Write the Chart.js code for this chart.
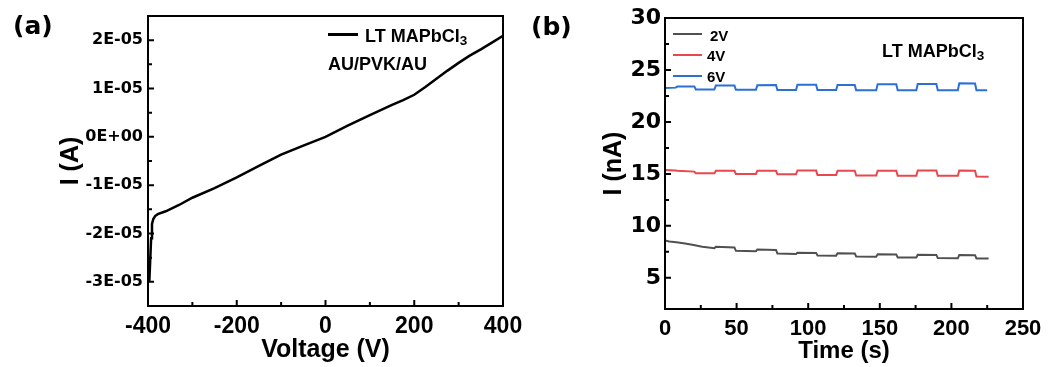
<!DOCTYPE html>
<html>
<head>
<meta charset="utf-8">
<script src="https://cdn.jsdelivr.net/npm/chart.js@4/dist/chart.umd.min.js"></script>
<style>
  body { margin: 0; background: #fff; width: 1048px; height: 367px; position: relative; overflow: hidden;
         font-family: "Liberation Sans", Arial, sans-serif; font-weight: bold; }
  .box { position: absolute; top: 0; width: 524px; height: 367px; }
  .t { position: absolute; line-height: 1; white-space: nowrap; color: #000; }
  .panel { font-family: "DejaVu Sans", sans-serif; font-size: 25px; }
  .ln { position: absolute; }
  sub { font-size: 0.75em; vertical-align: -0.25em; line-height: 0; }
</style>
</head>
<body>
<div class="box" style="left:0"><canvas id="chartA" width="524" height="367"></canvas></div>
<div class="box" style="left:524px"><canvas id="chartB" width="524" height="367"></canvas></div>

<div class="t panel" style="left:13px;top:13px">(a)</div>
<div class="t panel" style="left:531px;top:14px">(b)</div>

<!-- legend (a) -->
<div class="ln" style="left:328px;top:33px;width:30px;height:2.5px;background:#000"></div>
<div class="t" style="left:365px;top:27px;font-size:18px">LT MAPbCl<sub>3</sub></div>
<div class="t" style="left:328px;top:55px;font-size:18px">AU/PVK/AU</div>

<!-- legend (b) -->
<div class="ln" style="left:673px;top:33px;width:29px;height:2px;background:#505050"></div>
<div class="t" style="left:710px;top:28px;font-size:15px">2V</div>
<div class="ln" style="left:673px;top:54px;width:29px;height:2px;background:#e8474d"></div>
<div class="t" style="left:707px;top:48px;font-size:15px">4V</div>
<div class="ln" style="left:673px;top:75px;width:29px;height:2px;background:#2c6fd6"></div>
<div class="t" style="left:707px;top:69px;font-size:15px">6V</div>
<div class="t" style="left:882px;top:42px;font-size:18px">LT MAPbCl<sub>3</sub></div>

<script>
// (a) I-V curve
const voltage = [-397, -395, -393, -391, -388, -384, -378, -360, -330, -300, -250, -200,
                 -150, -100, -50, 0, 50, 100, 150, 175, 200, 225, 250, 275, 300, 325, 350, 375, 400];
const currentIV = [-2.98e-5, -2.55e-5, -2.1e-5, -1.8e-5, -1.7e-5, -1.64e-5, -1.6e-5, -1.54e-5,
                   -1.41e-5, -1.26e-5, -1.06e-5, -0.84e-5, -0.6e-5, -0.37e-5, -0.18e-5, 0,
                   0.23e-5, 0.45e-5, 0.66e-5, 0.76e-5, 0.87e-5, 1.03e-5, 1.2e-5, 1.37e-5,
                   1.53e-5, 1.68e-5, 1.81e-5, 1.95e-5, 2.09e-5];

// (b) I-t curves under on/off cycles
const time2V = [0, 3, 8, 14, 20, 26, 34.5, 35.5, 48.5, 49.5, 63.5, 64.5, 77.5, 78.5, 91.5, 92.5,
                105.5, 106.5, 119.5, 120.5, 132.5, 133.5, 147.5, 148.5, 161.5, 162.5, 175.5, 176.5,
                189.5, 190.5, 204.5, 205.5, 216.5, 217.5, 226];
const current2V = [8.6, 8.5, 8.42, 8.3, 8.15, 8.0, 7.84, 7.98, 7.92, 7.6, 7.56, 7.73, 7.68, 7.35, 7.3, 7.42,
                   7.4, 7.15, 7.13, 7.37, 7.35, 7.05, 7.03, 7.27, 7.25, 6.95, 6.95, 7.22,
                   7.2, 6.9, 6.88, 7.2, 7.18, 6.87, 6.85];

const time4V = [0, 7.5, 8.5, 20.5, 21.5, 34.5, 35.5, 48.5, 49.5, 63.5, 64.5, 77.5, 78.5, 91.5, 92.5,
                105.5, 106.5, 119.5, 120.5, 132.5, 133.5, 147.5, 148.5, 161.5, 162.5, 175.5, 176.5,
                189.5, 190.5, 204.5, 205.5, 216.5, 217.5, 226];
const current4V = [15.37, 15.33, 15.3, 15.22, 15.05, 15.05, 15.31, 15.3, 14.99, 14.99, 15.3, 15.3, 14.97, 14.96, 15.33,
                   15.32, 14.9, 14.89, 15.3, 15.3, 14.85, 14.84, 15.3, 15.3, 14.83, 14.83, 15.32,
                   15.32, 14.83, 14.82, 15.32, 15.3, 14.75, 14.73];

const time6V = [0, 7.5, 8.5, 20.5, 21.5, 34.5, 35.5, 48.5, 49.5, 63.5, 64.5, 77.5, 78.5, 91.5, 92.5,
                105.5, 106.5, 119.5, 120.5, 132.5, 133.5, 147.5, 148.5, 161.5, 162.5, 175.5, 176.5,
                189.5, 190.5, 204.5, 205.5, 216.5, 217.5, 225];
const current6V = [23.27, 23.3, 23.4, 23.42, 23.13, 23.12, 23.5, 23.5, 23.1, 23.09, 23.53, 23.55, 23.08, 23.08, 23.57,
                   23.57, 23.08, 23.07, 23.55, 23.56, 23.05, 23.05, 23.63, 23.63, 23.05, 23.05, 23.64,
                   23.64, 23.05, 23.05, 23.72, 23.7, 23.05, 23.04];

function toPoints(xs, ys) {
    return xs.map((x, i) => ({x: x, y: ys[i]}));
}

// closed box + inward tick marks (minor ticks = unlabelled ones, shorter)
const framePlugin = {
    id: 'frame',
    afterDraw(chart) {
        const {ctx, chartArea: a, scales} = chart;
        ctx.save();
        ctx.strokeStyle = '#000';
        ctx.lineWidth = 2;
        ctx.strokeRect(a.left, a.top, a.right - a.left, a.bottom - a.top);
        ctx.beginPath();
        scales.x.ticks.forEach(t => {
            const px = scales.x.getPixelForValue(t.value);
            const len = t.label === '' ? 4 : 6;
            ctx.moveTo(px, a.bottom);
            ctx.lineTo(px, a.bottom - len);
        });
        scales.y.ticks.forEach(t => {
            const py = scales.y.getPixelForValue(t.value);
            const len = t.label === '' ? 4 : 6;
            ctx.moveTo(a.left, py);
            ctx.lineTo(a.left + len, py);
        });
        ctx.stroke();
        ctx.restore();
    }
};

const noGrid = {display: false, drawTicks: false, tickLength: 0};
const axisBorder = {display: true, color: '#000', width: 2};

// fixed axis sizes so the plot boxes sit where they do in the figure
function fixX(h) {
    return s => { s.height = h; s.paddingLeft = 0; s.paddingRight = 0; };
}
function fixY(w) {
    return s => { s.width = w; s.paddingTop = 0; s.paddingBottom = 0; };
}

new Chart(document.getElementById('chartA'), {
    type: 'line',
    data: {
        datasets: [{
            data: toPoints(voltage, currentIV),
            borderColor: '#000',
            borderWidth: 2.5,
            pointRadius: 0,
            tension: 0
        }]
    },
    options: {
        responsive: false,
        animation: false,
        layout: {autoPadding: false, padding: {top: 16, right: 21, left: 0, bottom: 0}},
        plugins: {legend: {display: false}, tooltip: {enabled: false}},
        scales: {
            x: {
                type: 'linear', min: -400, max: 400,
                ticks: {
                    stepSize: 100, padding: 7, color: '#000', maxRotation: 0, autoSkip: false,
                    font: {family: 'Liberation Sans', size: 23, weight: 'bold'},
                    callback: v => (v % 200 === 0 ? String(v) : '')
                },
                grid: noGrid,
                border: axisBorder,
                title: {
                    display: true, text: 'Voltage (V)', color: '#000',
                    font: {family: 'Liberation Sans', size: 25, weight: 'bold', lineHeight: 1},
                    padding: {top: 0, bottom: 4}
                },
                afterFit: fixX(61)
            },
            y: {
                type: 'linear', min: -3.5e-5, max: 2.5e-5,
                ticks: {
                    stepSize: 5e-6, padding: 5, color: '#000', autoSkip: false,
                    font: {family: 'DejaVu Sans', size: 16, weight: 'bold'},
                    callback: v => {
                        const n = Math.round(v / 5e-6);
                        if (n % 2 !== 0) return '';
                        const k = n / 2;
                        return k === 0 ? '0E+00' : k + 'E-05';
                    }
                },
                grid: noGrid,
                border: axisBorder,
                title: {
                    display: true, text: 'I (A)', color: '#000',
                    font: {family: 'Liberation Sans', size: 25, weight: 'bold', lineHeight: 1},
                    padding: {top: 59, bottom: 0}
                },
                afterFit: fixY(148)
            }
        }
    },
    plugins: [framePlugin]
});

new Chart(document.getElementById('chartB'), {
    type: 'line',
    data: {
        datasets: [
            {label: '2V', data: toPoints(time2V, current2V), borderColor: '#505050', borderWidth: 2, pointRadius: 0, tension: 0},
            {label: '4V', data: toPoints(time4V, current4V), borderColor: '#e8474d', borderWidth: 2, pointRadius: 0, tension: 0},
            {label: '6V', data: toPoints(time6V, current6V), borderColor: '#2c6fd6', borderWidth: 2, pointRadius: 0, tension: 0}
        ]
    },
    options: {
        responsive: false,
        animation: false,
        layout: {autoPadding: false, padding: {top: 18, right: 25, left: 0, bottom: 0}},
        plugins: {legend: {display: false}, tooltip: {enabled: false}},
        scales: {
            x: {
                type: 'linear', min: 0, max: 250,
                ticks: {
                    stepSize: 25, padding: 7, color: '#000', maxRotation: 0, autoSkip: false,
                    font: {family: 'Liberation Sans', size: 22, weight: 'bold'},
                    callback: v => (v % 50 === 0 ? String(v) : '')
                },
                grid: noGrid,
                border: axisBorder,
                title: {
                    display: true, text: 'Time (s)', color: '#000',
                    font: {family: 'Liberation Sans', size: 24, weight: 'bold', lineHeight: 1},
                    padding: {top: 0, bottom: 4}
                },
                afterFit: fixX(58)
            },
            y: {
                type: 'linear', min: 2, max: 30,
                ticks: {
                    stepSize: 2.5, padding: 4, color: '#000', autoSkip: false,
                    font: {family: 'DejaVu Sans', size: 22, weight: 'bold'},
                    callback: v => (v % 5 === 0 ? String(v) : '')
                },
                grid: noGrid,
                border: axisBorder,
                title: {
                    display: true, text: 'I (nA)', color: '#000',
                    font: {family: 'Liberation Sans', size: 25, weight: 'bold', lineHeight: 1},
                    padding: {top: 78, bottom: 0}
                },
                afterFit: fixY(141)
            }
        }
    },
    plugins: [framePlugin]
});
</script>
</body>
</html>
